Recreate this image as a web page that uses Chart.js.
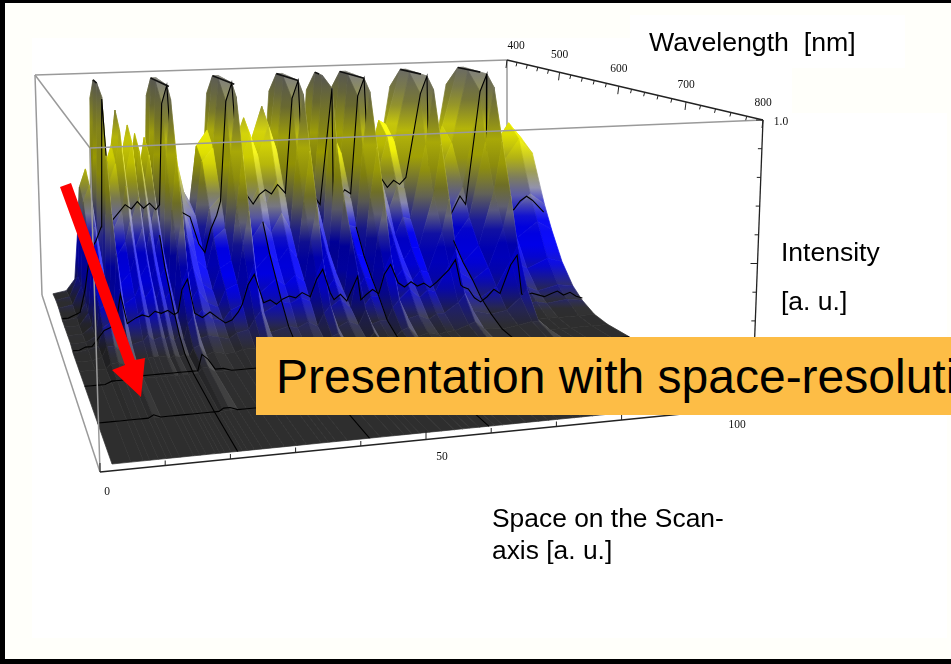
<!DOCTYPE html>
<html><head><meta charset="utf-8">
<script src="https://cdn.jsdelivr.net/npm/chart.js@4"></script>
<style>
html,body{margin:0;padding:0;width:951px;height:664px;overflow:hidden;background:#fffffa}
#frame{position:absolute;left:0;top:0;width:951px;height:664px;box-sizing:border-box;border:solid #000;border-width:3px 0 5px 5px;z-index:5;pointer-events:none}
.w{position:absolute;background:#fff}
#plot{position:absolute;left:0;top:0;width:951px;height:664px;filter:blur(.55px)}
.t{position:absolute;font-family:"Liberation Sans",Arial,sans-serif;color:#000;white-space:nowrap;z-index:3}
#banner{position:absolute;left:256px;top:337px;width:695px;height:78px;background:#fdbd46;overflow:hidden;z-index:3;font-family:"Liberation Sans",Arial,sans-serif;font-size:48px;line-height:80px;white-space:nowrap;text-indent:20px}
</style></head><body>
<div class="w" style="left:32px;top:38px;width:760px;height:600px"></div>
<div class="w" style="left:630px;top:15px;width:275px;height:53px"></div>
<div class="w" style="left:792px;top:113px;width:155px;height:525px"></div>
<div id="plot"><canvas id="c" width="951" height="664"></canvas></div>
<div class="t" style="left:649px;top:27px;font-size:26.7px">Wavelength&nbsp; [nm]</div>
<div class="t" style="left:781px;top:237px;font-size:26.5px">Intensity</div>
<div class="t" style="left:781px;top:286px;font-size:26.5px">[a. u.]</div>
<div class="t" style="left:492px;top:503px;font-size:26.4px">Space on the Scan-</div>
<div class="t" style="left:492px;top:535px;font-size:26.4px">axis [a. u.]</div>
<div id="banner">Presentation with space-resolution</div>
<div id="frame"></div>
<script>
// ---- values ----
const space = [0,3,5,6,7.4,8.7,9.6,10.8,13,14,15,16.5,17.2,18,19,20,20.8,21.6,22.7,24,25.5,27.5,29.5,31,33.3,34.5,35.7,37.5,41,42.7,44.8,46.6,47.8,49,50.5,52.5,54.5,55.8,57,58.5,60,61,62.2,64,66,68,69.5,71,73.6,74.8,76.5,80,83,85.6,86.8,89,91,93,97,100];
const wavelengths = [400,426,450,480,497,520,542,560,582,605,640,720,800];
const intensity400 = [1,2,7,29,33,20,90,31,39,47,35,43,34,41,33,40,32,90,90,30,40,28,23,37,41,90,90,32,44,39,47,40,90,90,30,41,28,90,28,40,39,90,90,34,45,33,42,41,90,90,41,29,40,90,90,37,36,31,40,35];
const intensity426 = [2,3,12,52,60,36,100,56,70,86,64,79,62,75,60,73,58,100,100,54,72,50,42,68,75,100,100,58,80,70,85,72,100,100,54,74,50,100,50,72,70,100,100,62,82,60,76,74,100,100,74,52,72,100,100,68,66,56,72,64];
const intensity450 = [2,3,11,48,55,33,100,52,64,79,59,73,57,69,55,67,53,100,100,50,66,46,39,63,69,100,100,53,74,64,78,66,100,100,50,68,46,100,46,66,64,100,100,57,75,55,70,68,100,100,68,48,66,100,100,63,61,52,66,59];
const intensity480 = [1,2,8,34,40,24,96,37,46,57,42,52,41,50,40,48,38,92,100,36,48,33,28,45,50,92,100,38,53,46,56,48,92,100,36,49,33,96,33,48,46,92,100,41,54,40,50,49,92,100,49,34,48,92,100,41,40,34,43,38];
const intensity497 = [1,1,6,26,30,18,72,28,35,43,32,40,31,38,30,37,29,70,95,27,36,25,21,34,38,70,95,29,40,35,43,36,70,95,27,37,25,72,25,36,35,70,95,31,41,30,38,37,70,95,37,26,36,70,95,30,29,25,32,28];
const intensity520 = [1,1,4,19,22,13,50,20,25,31,23,28,22,27,22,26,21,50,72,19,26,18,15,24,27,50,72,21,29,25,31,26,50,72,19,27,18,50,18,26,25,50,72,22,30,22,27,27,50,72,27,19,26,50,72,17,17,14,18,16];
const intensity542 = [1,1,3,14,16,9,36,15,18,22,17,21,16,20,16,19,15,36,50,14,19,13,11,18,20,36,50,15,21,18,22,19,36,50,14,19,13,36,13,19,18,36,50,16,21,16,20,19,36,50,19,14,19,36,50,9,9,7,9,8];
const intensity560 = [0,1,2,9,11,6,24,10,13,15,12,14,11,14,11,13,10,24,30,10,13,9,8,12,14,24,30,10,14,13,15,13,24,30,10,13,9,24,9,13,13,24,30,11,15,11,14,13,24,30,13,9,13,24,30,5,5,4,5,4];
const intensity582 = [0,0,1,5,5,3,11,5,6,8,6,7,6,7,5,7,5,11,14,5,6,5,4,6,7,11,14,5,7,6,8,6,11,14,5,7,5,11,5,6,6,11,14,6,7,5,7,7,11,14,7,5,6,11,14,1,1,1,1,1];
const intensity605 = [0,0,0,2,2,1,5,2,3,3,3,3,2,3,2,3,2,5,6,2,3,2,2,3,3,5,6,2,3,3,3,3,5,6,2,3,2,5,2,3,3,5,6,2,3,2,3,3,5,6,3,2,3,4,4,0,0,0,0,0];
const intensity640 = [0,0,0,1,1,1,2,1,1,1,1,1,1,1,1,1,1,3,3,1,1,1,1,1,1,2,2,1,1,1,1,1,2,2,1,1,1,2,1,1,1,2,2,1,1,1,1,1,2,2,1,1,1,1,1,0,0,0,0,0];
const intensity720 = [0,0,0,0,0,0,0,0,0,0,0,0,0,0,0,0,0,0,0,0,0,0,0,0,0,0,0,0,0,0,0,0,0,0,0,0,0,0,0,0,0,0,0,0,0,0,0,0,0,0,0,0,0,0,0,0,0,0,0,0];
const intensity800 = [0,0,0,0,0,0,0,0,0,0,0,0,0,0,0,0,0,0,0,0,0,0,0,0,0,0,0,0,0,0,0,0,0,0,0,0,0,0,0,0,0,0,0,0,0,0,0,0,0,0,0,0,0,0,0,0,0,0,0,0];
const rows = [intensity400,intensity426,intensity450,intensity480,intensity497,intensity520,intensity542,intensity560,intensity582,intensity605,intensity640,intensity720,intensity800];
rows.forEach((r,i)=>{if(r.length!==space.length) throw new Error('row '+i+' has '+r.length+' not '+space.length);});

// jagged black mesh lines along constant wavelength
const meshSpace = [0,1.25,2.5,3.75,5,6.25,7.5,8.7,9.6,10.8,12.5,13.75,15,16.25,17.5,18.75,20,20.8,21.6,22.7,24,25.5,27,28.75,30,31.25,32.5,33.3,34.5,35.7,37.5,38.75,40,41.25,42.5,43.75,45,46.6,47.8,49,50.5,51.25,52.5,53.75,55.8,56.5,57.5,58.75,60,61,62.2,63.75,65,66.25,67.5,68.75,70,71.25,73.6,74.8,76,76.5,77.5,78.75,80,81.25,82.5,83.75,85.6,86.8,88,88.75,90,91.25,92.5,93.75,95,96.25,97.5,98.75,100];
const mesh480 = [2,2,3,4,14,30,34,40,95,42,46,49,47,50,47,49,46,48,92,100,47,44,42,30,26,36,42,48,92,100,47,50,46,50,52,50,54,50,92,100,46,45,48,44,96,42,46,50,48,92,100,52,50,54,50,53,51,54,92,100,52,50,46,36,32,38,44,40,92,100,42,42,40,38,37,36,40,42,40,37,34];
const mesh560 = [1,1,2,2,5,8,9,11,22,10,12,13,12,14,13,14,12,13,22,26,12,10,12,9,7,8,11,14,22,26,14,15,13,15,16,15,17,15,22,26,16,13,15,12,22,12,14,16,14,22,26,18,16,18,16,17,15,17,22,26,15,14,13,9,7,9,12,10,22,26,9,8,9,8,7,8,9,7,8,6,5];
const mesh640 = [0,0,0,0,1,1,1,1,3,2,2,2,2,2,2,2,2,2,8,6,2,2,1,1,1,1,1,2,3,2,2,2,1,1,1,1,1,1,2,2,2,1,1,1,2,1,1,1,1,2,2,2,1,1,1,1,1,1,2,2,2,1,1,1,1,1,1,1,2,2,2,1,1,0,0,0,0,0,0,0,0];
const mesh720 = [0,0,0,0,0,0,0,0,1,0,0,0,0,0,0,0,0,0,1,1,0,0,0,0,0,0,0,0,1,1,0,0,0,0,0,0,0,0,1,1,0,0,0,0,0,0,0,0,0,1,1,0,0,0,0,0,0,0,1,1,0,0,0,0,0,0,0,0,1,1,0,0,0,0,0,0,0,0,0,0,0];
const meshRows = {480:mesh480,560:mesh560,640:mesh640,720:mesh720};

const gridSpaces = [20,41,60,80];
// flat clipped tops of the saturated ridges: [space, wavelength, space, wavelength]
const clipTops = [[9.6,426,9.6,450],[21.6,426,22.7,490],[34.5,426,35.7,490],[47.8,426,49,480],[55.8,426,55.8,440],[61,426,62.2,480],[73.6,426,74.8,465],[85.6,426,86.8,465]];

const wavelengthTicks = [400,500,600,700,800];
const wavelengthMinor = [420,440,460,480,520,540,560,580,620,640,660,680,720,740,760,780];
const spaceTicks = [0,50,100];
const spaceMinor = [10,20,30,40,60,70,80,90];
const intensityTicks = [0.5,1];
const intensityMinor = [0.1,0.2,0.3,0.4,0.6,0.7,0.8,0.9];

// ---- view: projection of (space, wavelength, intensity) ----
const viewSurface = {f00:[53,296],f10:[500,262],f01:[112,464],f11:[740,401],t00:[44,78],t10:[515,62],t01:[102,146],t11:[748,122]};
const viewBox = {f00:[42,295],f10:[507,268],f01:[100,472],f11:[752,407],t00:[35,75],t10:[507,60],t01:[90,148],t11:[763,120]};
const depth = 1.29;
function warp(w){const t=(w-400)/400;return t/(depth-(depth-1)*t);}
function bil(a,b,c,d,u,v){return (a*(1-u)+b*u)*(1-v)+(c*(1-u)+d*u)*v;}
function proj(V,s,w,I){
  const u=s/100,v=warp(w);
  const fx=bil(V.f00[0],V.f10[0],V.f01[0],V.f11[0],u,v), fy=bil(V.f00[1],V.f10[1],V.f01[1],V.f11[1],u,v);
  const tx=bil(V.t00[0],V.t10[0],V.t01[0],V.t11[0],u,v), ty=bil(V.t00[1],V.t10[1],V.t01[1],V.t11[1],u,v);
  return {x:fx+(tx-fx)*I,y:fy+(ty-fy)*I,fy,ty};
}

// ---- colour map ----
const cmap=[[0,[46,46,46]],[.03,[46,46,50]],[.06,[42,42,90]],[.1,[28,28,144]],[.16,[8,8,216]],[.22,[0,0,255]],[.32,[0,0,240]],[.38,[60,60,205]],[.44,[140,140,170]],[.5,[140,140,100]],[.56,[180,180,32]],[.66,[245,245,0]],[.76,[255,255,16]],[.86,[170,170,70]],[1,[138,138,130]]];
function cm(I){
  I=Math.max(0,Math.min(1,I));
  for(let i=1;i<cmap.length;i++){if(I<=cmap[i][0]){const a=cmap[i-1],b=cmap[i],f=(I-a[0])/(b[0]-a[0]);return a[1].map((v,k)=>v+(b[1][k]-v)*f);}}
  return cmap[cmap.length-1][1];
}
function shade(c,x){
  const r=x>0?c.map(v=>v*(1-.38*x)):c.map(v=>v+(255-v)*.3*(-x));
  return 'rgb('+r.map(v=>Math.round(v)).join(',')+')';
}

// ---- datasets, in painter's order ----
const ds=[];
function line(points,color,width){
  ds.push({data:points.map(q=>({x:q.x,y:q.y})),borderColor:color,borderWidth:width,fill:false,pointRadius:0,tension:0,order:-ds.length});
}
function quad(r,j){
  const a=[rows[r][j]/100,rows[r][j+1]/100,rows[r+1][j+1]/100,rows[r+1][j]/100];
  const w0=wavelengths[r],w1=wavelengths[r+1],s0=space[j],s1=space[j+1];
  const p=[proj(viewSurface,s0,w0,a[0]),proj(viewSurface,s1,w0,a[1]),proj(viewSurface,s1,w1,a[2]),proj(viewSurface,s0,w1,a[3])];
  const ymin=Math.min(...p.map(q=>q.y)),ymax=Math.max(...p.map(q=>q.y));
  const yf=p.reduce((t,q)=>t+q.fy,0)/4,H=p.reduce((t,q)=>t+q.fy-q.ty,0)/4;
  const d=((a[1]+a[2])-(a[0]+a[3]))/2/(s1-s0),mean=(a[0]+a[1]+a[2]+a[3])/4;
  const x=Math.tanh(6*d/(mean+.15));
  const back=(a[0]+a[1])/2,front=(a[2]+a[3])/2;
  // near the floor the row spacing is wide: colour from the row values, not from the height on screen
  const level=u=>r>=8?back+(front-back)*u:(yf-(ymin+(ymax-ymin)*u))/H;
  let g=null;
  const paint=ctx=>{
    if(g) return g;
    const sc=ctx.chart.scales.y;
    const pa=sc?sc.getPixelForValue(ymin):NaN,pb=sc?sc.getPixelForValue(ymax):NaN;
    if(!isFinite(pa)||!isFinite(pb)) return shade(cm(level(.5)),x);
    g=ctx.chart.ctx.createLinearGradient(0,pa,0,Math.max(pb,pa+.5));
    for(const u of [0,.25,.5,.75,1]) g.addColorStop(u,shade(cm(level(u)),x));
    return g;
  };
  ds.push({data:[p[0],p[1],p[2],p[3],p[0]].map(q=>({x:q.x,y:q.y})),fill:'shape',backgroundColor:paint,borderColor:paint,borderWidth:.7,pointRadius:0,tension:0,order:-ds.length});
}
const boxP=(s,w,I)=>proj(viewBox,s,w,I);
const GREY='#9a9a9a';
// back box edges
line([boxP(0,400,1),boxP(100,400,1)],GREY,1.5);
line([boxP(100,400,1),boxP(100,400,0)],GREY,1.5);
line([boxP(0,400,1),boxP(0,400,0)],GREY,1.5);
line([boxP(0,400,1),boxP(0,800,1)],GREY,1.5);
line([boxP(0,400,0),boxP(0,800,0)],GREY,1.5);
line([boxP(100,400,0),boxP(100,800,0)],GREY,1.5);
// surface
for(let r=0;r<rows.length-1;r++){
  for(let j=space.length-2;j>=0;j--) quad(r,j);
  const m=meshRows[wavelengths[r]];
  if(m) line(meshSpace.map((s,i)=>proj(viewSurface,s,wavelengths[r],m[i]/100)),'#000',1.1);
}
// lines of constant space on the surface
for(const s of gridSpaces){
  const j=space.indexOf(s);
  line(wavelengths.map((w,r)=>({r,w})).filter(o=>o.w>=497).map(o=>proj(viewSurface,s,o.w,rows[o.r][j]/100)),'#000',1.1);
}
// clipped tops
for(const c of clipTops) line([proj(viewSurface,c[0],c[1],1),proj(viewSurface,c[2],c[3],1)],'#111',1.6);
// front box edges
line([boxP(0,800,1),boxP(100,800,1)],GREY,1.5);
line([boxP(0,800,1),boxP(0,800,0)],GREY,1.5);
// axes with ticks
const AX='#222';
line([boxP(100,400,1),boxP(100,800,1)],AX,1.3);
line([boxP(100,800,1),boxP(100,800,0)],AX,1.3);
line([boxP(0,800,0),boxP(100,800,0)],AX,1.3);
function tick(p,dx,dy){line([{x:p.x,y:p.y},{x:p.x+dx,y:p.y+dy}],AX,1);}
wavelengthTicks.forEach(w=>tick(boxP(100,w,1),-1,8));
wavelengthMinor.forEach(w=>tick(boxP(100,w,1),-1,4));
spaceTicks.forEach(s=>tick(boxP(s,800,0),0,-9));
spaceMinor.forEach(s=>tick(boxP(s,800,0),0,-5));
intensityTicks.forEach(I=>tick(boxP(100,800,I),-7,0));
intensityMinor.forEach(I=>tick(boxP(100,800,I),-4,0));

const labelsPlugin={id:'labels',afterDatasetsDraw(chart){
  const c=chart.ctx,X=chart.scales.x,Y=chart.scales.y;
  c.save();
  // red arrow annotation
  c.fillStyle='#ff0000';c.beginPath();
  [[60,187],[71,183],[135,360],[145,358],[141,397],[112,370],[125,365]].forEach((p,i)=>{const x=X.getPixelForValue(p[0]),y=Y.getPixelForValue(p[1]);i?c.lineTo(x,y):c.moveTo(x,y);});
  c.closePath();c.fill();
  // tick labels
  c.fillStyle='#111';c.font='11.5px "Liberation Serif",serif';c.textAlign='center';c.textBaseline='middle';
  wavelengthTicks.forEach((w,i)=>{const p=boxP(100,w,1);c.fillText(String(w),X.getPixelForValue(p.x+(i?0:9)),Y.getPixelForValue(p.y-(i?17:14)));});
  const off={0:[7,20],50:[16,17],100:[-15,18]};
  spaceTicks.forEach(s=>{const p=boxP(s,800,0);c.fillText(String(s),X.getPixelForValue(p.x+off[s][0]),Y.getPixelForValue(p.y+off[s][1]));});
  const t=boxP(100,800,1);c.fillText('1.0',X.getPixelForValue(t.x+18),Y.getPixelForValue(t.y+2));
  c.restore();
}};

new Chart(document.getElementById('c'),{
  type:'line',
  data:{datasets:ds},
  plugins:[labelsPlugin],
  options:{
    responsive:false,animation:false,events:[],devicePixelRatio:1,
    layout:{padding:0},
    plugins:{legend:{display:false},tooltip:{enabled:false},title:{display:false}},
    elements:{line:{capBezierPoints:false}},
    scales:{
      x:{type:'linear',min:0,max:951,display:false},
      y:{type:'linear',min:0,max:664,reverse:true,display:false}
    }
  }
});
</script>
</body></html>
